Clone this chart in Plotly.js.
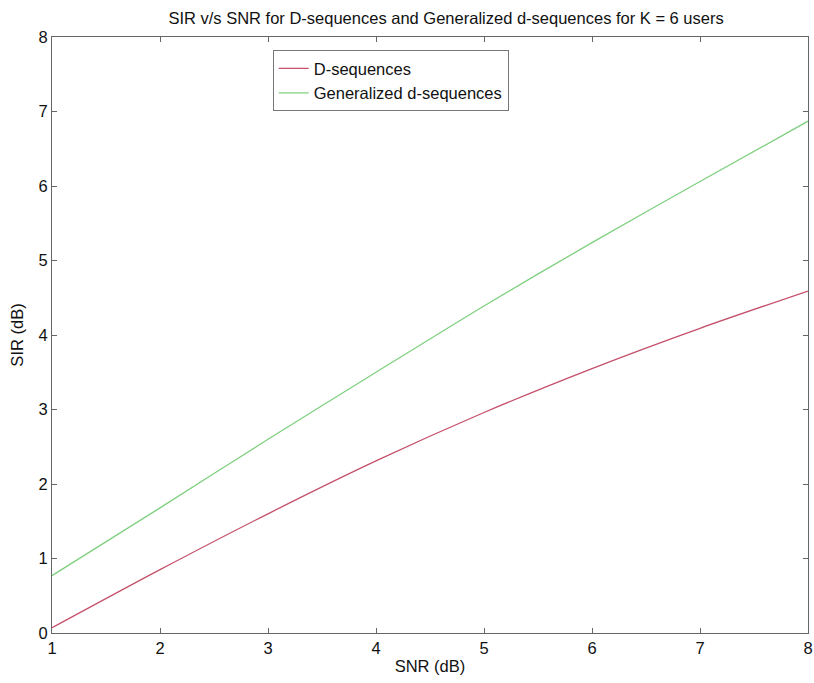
<!DOCTYPE html>
<html>
<head>
<meta charset="utf-8">
<script src="https://cdn.plot.ly/plotly-3.0.1.min.js"></script>
<style>html,body{margin:0;padding:0;background:#fff;}</style>
</head>
<body>
<div id="chart" style="width:814px;height:683px;"></div>
<script>
var snr = [1, 2, 3, 4, 5, 6, 7, 8];
var sirD = [0.07, 0.85, 1.60, 2.31, 2.96, 3.55, 4.09, 4.59];
var sirGD = [0.77, 1.68, 2.60, 3.50, 4.39, 5.24, 6.06, 6.87];
var seriesNames = ['D-sequences', 'Generalized d-sequences'];

var traces = [
  {x: snr, y: sirD, mode: 'lines', name: seriesNames[0], line: {color: '#c4506a', width: 1.3, shape: 'spline', smoothing: 0.8}},
  {x: snr, y: sirGD, mode: 'lines', name: seriesNames[1], line: {color: '#7fd07f', width: 1.3, shape: 'spline', smoothing: 0.8}}
];

var FF = 'Liberation Sans, Arial, sans-serif';
var FS = 16.5;

var axisCommon = {
  showgrid: false, zeroline: false, showline: true, mirror: 'ticks',
  linecolor: '#666', linewidth: 1, ticks: 'inside', ticklen: 5, tickcolor: '#666',
  tickfont: {family: FF, size: FS, color: '#111'}
};

var layout = {
  width: 814, height: 683,
  margin: {l: 52, r: 6, t: 37, b: 50},
  paper_bgcolor: '#fff', plot_bgcolor: '#fff',
  font: {family: FF, size: FS, color: '#111'},
  title: {text: 'SIR v/s SNR for D-sequences and Generalized d-sequences for K = 6 users',
          x: 0.548, xanchor: 'center', y: 0.974, yanchor: 'middle',
          font: {size: FS, family: FF, color: '#111'}},
  xaxis: Object.assign({}, axisCommon, {range: [1, 8], dtick: 1,
          title: {text: 'SNR (dB)', standoff: 4, font: {size: FS}}}),
  yaxis: Object.assign({}, axisCommon, {range: [0, 8], dtick: 1,
          title: {text: 'SIR (dB)', standoff: 10, font: {size: FS}}}),
  showlegend: true,
  legend: {x: 0.292, y: 0.978, xanchor: 'left', yanchor: 'top',
           bgcolor: '#fff', bordercolor: '#777', borderwidth: 1,
           itemwidth: 30, tracegroupgap: 0,
           font: {size: FS, family: FF, color: '#111'}}
};

Plotly.newPlot('chart', traces, layout, {displayModeBar: false, staticPlot: true});
</script>
</body>
</html>
